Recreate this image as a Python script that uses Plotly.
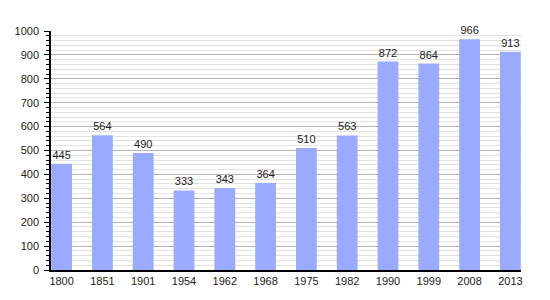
import plotly.graph_objects as go

years = ["1800", "1851", "1901", "1954", "1962", "1968", "1975", "1982", "1990", "1999", "2008", "2013"]
population = [445, 564, 490, 333, 343, 364, 510, 563, 872, 864, 966, 913]

fig = go.Figure(go.Bar(
    x=years, y=population,
    marker=dict(color="#99aaff", line=dict(width=0)),
    text=[str(v) for v in population],
    textposition="outside",
    textfont=dict(size=11, color="#222222", family="Liberation Sans, Arial, sans-serif"),
    cliponaxis=False,
))

fig.update_layout(
    width=550, height=300,
    margin=dict(l=51, r=29, t=31, b=30),
    paper_bgcolor="white", plot_bgcolor="white",
    font=dict(family="Liberation Sans, Arial, sans-serif", size=11, color="#222222"),
    bargap=0.49,
    showlegend=False,
    xaxis=dict(
        type="category", range=[-0.26, 11.26],
        showline=True, linecolor="black", linewidth=1.5,
        ticks="", showgrid=False, tickfont=dict(size=11),
    ),
    yaxis=dict(
        range=[0, 1000], dtick=100, tick0=0,
        showline=True, linecolor="black", linewidth=1.5,
        ticks="outside", ticklen=5, tickcolor="black", tickwidth=1,
        showgrid=True, gridcolor="#b4b4b4", gridwidth=1,
        zeroline=False,
        ticklabelstandoff=3,
        minor=dict(dtick=20, showgrid=True, gridcolor="#e2e2e2", gridwidth=1,
                   ticks="outside", ticklen=3, tickcolor="black"),
        tickfont=dict(size=11),
    ),
)

fig.write_html("out.html")
